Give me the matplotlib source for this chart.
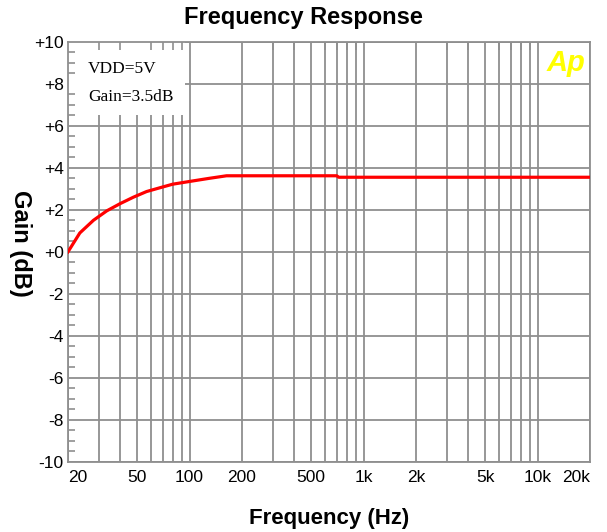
import numpy as np
import matplotlib.pyplot as plt
from matplotlib import font_manager
from matplotlib.patches import Rectangle

freq = [20, 23.4, 28, 33.4, 40, 47.5, 56.6, 67.5, 80, 100, 130, 163, 700, 720, 20000]
gain = [0.0, 0.9, 1.5, 1.95, 2.3, 2.6, 2.87, 3.05, 3.22, 3.35, 3.5, 3.62, 3.62, 3.55, 3.55]

xtick_vals = [20, 50, 100, 200, 500, 1000, 2000, 5000, 10000, 20000]
xtick_labels = ["20", "50", "100", "200", "500", "1k", "2k", "5k", "10k", "20k"]
xgrid_vals = ([20, 30, 40, 50, 60, 70, 80, 90, 100]
              + [200, 300, 400, 500, 600, 700, 800, 900, 1000]
              + [2000, 3000, 4000, 5000, 6000, 7000, 8000, 9000, 10000, 20000])
ytick_vals = [-10, -8, -6, -4, -2, 0, 2, 4, 6, 8, 10]
ytick_labels = ["-10", "-8", "-6", "-4", "-2", "+0", "+2", "+4", "+6", "+8", "+10"]
yminor_vals = list(np.arange(-10, 10.5, 0.5))

grid_c = "#8f8f8f"

# tick labels in the original are a condensed sans
have = {f.name for f in font_manager.fontManager.ttflist}
if "Liberation Sans Narrow" in have:
    tick_font, tick_size = "Liberation Sans Narrow", 14
else:
    tick_font, tick_size = "Liberation Sans", 12.5

fig = plt.figure(figsize=(6.07, 5.32), dpi=100)
ax = fig.add_axes([0.112, 0.1316, 0.86, 0.79])

ax.set_xscale("log")
ax.set_xlim(20, 20000)
ax.set_ylim(-10, 10)

# grid drawn by hand so the legend box can sit over it
ax.vlines(xgrid_vals, -10, 10, colors=grid_c, linewidth=1.3, zorder=1)
ax.hlines(ytick_vals, 20, 20000, colors=grid_c, linewidth=1.3, zorder=1)

ax.add_patch(Rectangle((0, 0.826), 0.224, 0.174, transform=ax.transAxes,
                       facecolor="white", edgecolor="none", zorder=1.5))

ax.plot(freq, gain, color="#ff0000", linewidth=2.3, zorder=3)

ax.set_xticks(xtick_vals, xtick_labels)
ax.set_xticks(xgrid_vals, minor=True)
ax.xaxis.set_minor_formatter(plt.NullFormatter())
ax.set_yticks(ytick_vals, ytick_labels)
ax.set_yticks(yminor_vals, minor=True)

ax.tick_params(axis="x", which="major", length=0, pad=6, labelsize=tick_size)
ax.tick_params(axis="x", which="minor", direction="in", length=6, width=1.2,
               color=grid_c, top=True, bottom=False)
ax.tick_params(axis="y", which="major", length=0, pad=3, labelsize=tick_size)
ax.tick_params(axis="y", which="minor", direction="in", length=5, width=1.2,
               color=grid_c, left=True, right=False)
for lab in ax.get_xticklabels() + ax.get_yticklabels():
    lab.set_family(tick_font)
xl = ax.get_xticklabels()
xl[0].set_horizontalalignment("left")
xl[-1].set_horizontalalignment("right")

for s in ax.spines.values():
    s.set_color(grid_c)
    s.set_linewidth(1.3)

ax.text(0.038, 0.936, "VDD=5V", transform=ax.transAxes, family="Liberation Serif",
        fontsize=12.5, va="center", zorder=4)
ax.text(0.038, 0.869, "Gain=3.5dB", transform=ax.transAxes, family="Liberation Serif",
        fontsize=12.5, va="center", zorder=4)
ax.text(0.992, 0.95, "Ap", transform=ax.transAxes, color="#ffff00", fontsize=21,
        fontweight="bold", style="italic", ha="right", va="center",
        family="Liberation Sans", zorder=4)

fig.text(0.5, 0.968, "Frequency Response", ha="center", va="center",
         fontsize=17, fontweight="bold", family="Liberation Sans")
fig.text(0.542, 0.026, "Frequency (Hz)", ha="center", va="center",
         fontsize=16, fontweight="bold", family="Liberation Sans")
fig.text(0.033, 0.543, "Gain (dB)", ha="center", va="center", rotation=270,
         fontsize=17, fontweight="bold", family="Liberation Sans")

fig.savefig("out.png", dpi=100)
